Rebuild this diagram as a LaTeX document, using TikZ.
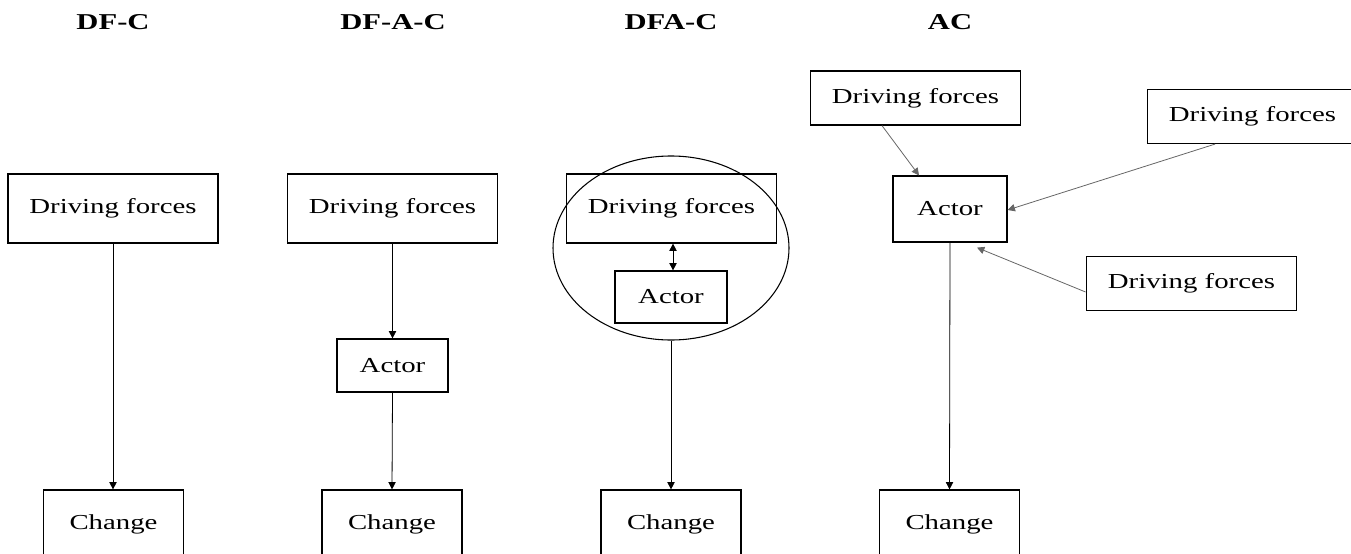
\documentclass[tikz,border=0pt]{standalone}
\usepackage{fontspec}
\setmainfont{Liberation Serif}[FakeStretch=1.35]
\usetikzlibrary{arrows.meta,calc,shapes.geometric}
\tikzset{
  box/.style={draw=black, line width=0.9pt, inner sep=0pt, font=\fontsize{16}{18}\selectfont},
  dfbox/.style={box, minimum width=157.5pt, minimum height=51.75pt},
  dfsmall/.style={box, minimum width=158pt, minimum height=40.5pt},
  chbox/.style={box, minimum width=105pt, minimum height=51pt},
  ttl/.style={font=\fontsize{17}{20}\selectfont\bfseries, anchor=base, inner sep=0pt},
  arr/.style={-{Triangle[length=5.5pt,width=5.5pt]}, line width=0.6pt, draw=black},
  garr/.style={arr, draw=black!60},
}
\begin{document}
\begin{tikzpicture}[x=0.75pt,y=-0.75pt]
\useasboundingbox (0,0) rectangle (1351,553);
\clip (0,0) rectangle (1351,553);

% titles
\node[ttl] (t1) at (113,29) {DF-C};
\node[ttl] (t2) at (393,29) {DF-A-C};
\node[ttl] (t3) at (671,29) {DFA-C};
\node[ttl] (t4) at (950,29) {AC};

% column 1
\node[dfbox] (df1) at (113,208.5) {Driving forces};
\node[chbox] (ch1) at (113.5,524) {Change};
\draw[arr] (df1.south) -- (ch1.north -| df1.south);

% column 2
\node[dfbox] (df2) at (392.5,208.5) {Driving forces};
\node[box, minimum width=83.25pt, minimum height=39.75pt] (act2) at (392.5,365.5) {Actor};
\node[chbox] (ch2) at (392,524) {Change};
\draw[arr] (df2.south) -- (act2.north);
\draw[arr] (act2.south) -- (ch2.north);

% column 3
\node[dfbox] (df3) at (671.5,208.5) {Driving forces};
\node[box, minimum width=84pt, minimum height=39pt] (act3) at (671,297) {Actor};
\node[draw=black, line width=0.8pt, ellipse, inner sep=0pt, minimum width=177pt, minimum height=138pt] (ell) at (671,248) {};
\node[chbox] (ch3) at (671,524) {Change};
\draw[{Triangle[length=5.5pt,width=5.5pt]}-{Triangle[length=5.5pt,width=5.5pt]}, line width=0.6pt] ($(df3.south)+(1.5,0)$) -- ($(act3.north)+(2,0)$);
\draw[arr] (ell.south) -- (ch3.north);

% column 4
\node[dfsmall] (dfa) at (915.5,98) {Driving forces};
\node[dfsmall] (dfr) at (1252.5,116.5) {Driving forces};
\node[dfsmall] (dfl) at (1191.5,283.5) {Driving forces};
\node[box, minimum width=85.5pt, minimum height=49.5pt] (act4) at (950,209) {Actor};
\node[chbox] (ch4) at (949.5,524) {Change};
\draw[garr] ($(dfa.south)+(-33.5,0)$) -- ($(act4.north)+(-31,0)$);
\draw[garr] ($(dfr.south)+(-37.5,0)$) -- ($(act4.east)+(0,1)$);
\draw[garr] ($(dfl.west)+(0,8.5)$) -- ($(act4.south)+(27,5)$);
\draw[arr] (act4.south) -- (ch4.north);
\end{tikzpicture}
\end{document}
